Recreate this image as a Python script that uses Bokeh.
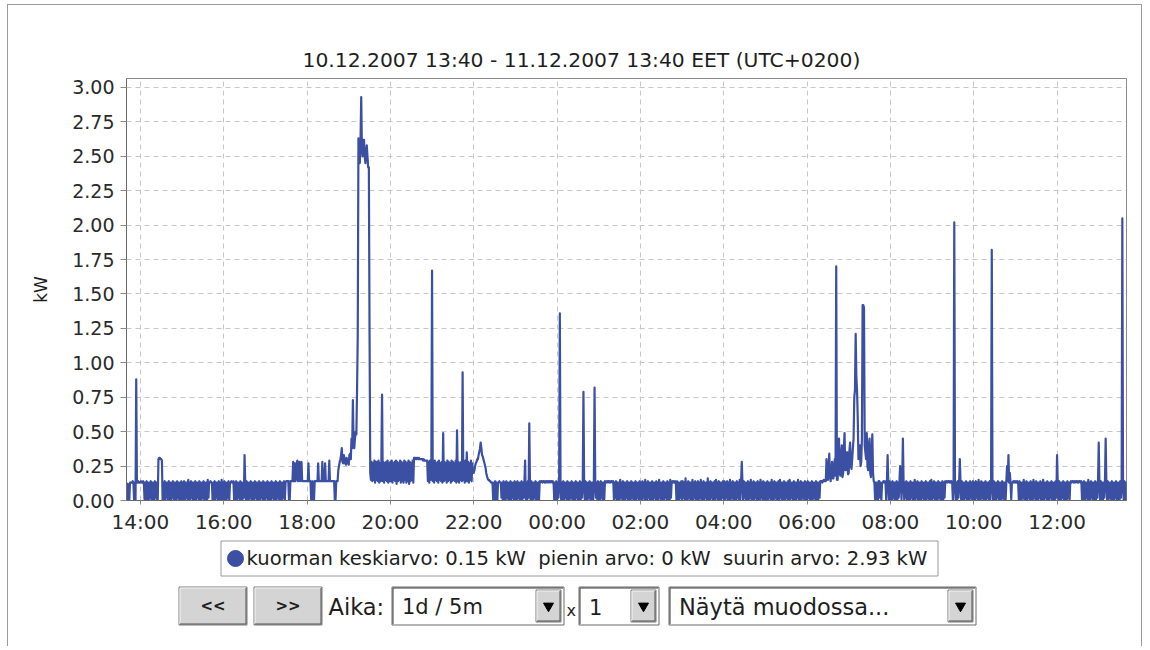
from bokeh.plotting import figure
from bokeh.models import Range1d, FixedTicker, NumeralTickFormatter, ColumnDataSource
from bokeh.layouts import column
from bokeh.embed import file_html
from bokeh.resources import INLINE
from bokeh.core.properties import value

# ---------------- data (load in hundredths of kW, 1-minute samples, one list per clock hour) ----------------
title_text = "10.12.2007 13:40 - 11.12.2007 13:40 EET (UTC+0200)"
start_clock_min = 13 * 60 + 40
step_minutes = 1

kw_13a = [13, 0, 12, 1, 0, 13, 13, 13, 13, 14, 13, 0, 13, 0, 88, 13, 13, 14, 13, 13]
kw_14 = [13, 14, 13, 13, 14, 13, 1, 13, 0, 14, 1, 13, 0, 13, 2, 14, 0, 13, 1, 13,
         0, 14, 2, 13, 0, 1, 30, 31, 31, 30, 30, 29, 0, 13, 1, 14, 0, 13, 2, 13,
         0, 14, 1, 13, 0, 13, 2, 14, 0, 13, 1, 13, 0, 14, 2, 13, 0, 13, 1, 14]
kw_15 = [0, 13, 1, 14, 0, 13, 2, 13, 0, 15, 1, 13, 0, 14, 2, 13, 0, 13, 1, 14,
         0, 13, 2, 13, 0, 14, 1, 13, 0, 13, 2, 14, 0, 13, 1, 13, 0, 15, 2, 13,
         13, 14, 13, 13, 0, 13, 1, 14, 0, 13, 2, 13, 0, 14, 1, 13, 0, 15, 1, 13]
kw_16 = [0, 14, 1, 13, 0, 13, 2, 14, 0, 13, 13, 14, 13, 13, 14, 0, 13, 1, 14, 0,
         13, 2, 13, 0, 14, 1, 13, 0, 13, 2, 33, 13, 0, 14, 1, 13, 0, 13, 2, 14,
         0, 13, 1, 13, 0, 14, 2, 13, 0, 13, 1, 14, 0, 13, 2, 13, 0, 14, 1, 13]
kw_17 = [0, 13, 2, 14, 0, 13, 1, 13, 0, 14, 2, 13, 0, 13, 1, 14, 0, 13, 2, 13,
         0, 14, 1, 13, 0, 13, 2, 14, 0, 13, 14, 14, 14, 14, 0, 0, 14, 14, 14, 14,
         28, 14, 27, 14, 15, 27, 29, 14, 15, 28, 14, 26, 28, 14, 14, 14, 14, 14, 14, 14]
kw_18 = [14, 14, 27, 14, 14, 14, 0, 0, 14, 0, 0, 14, 14, 14, 14, 14, 27, 14, 14, 14,
         14, 14, 28, 14, 14, 14, 27, 14, 14, 14, 14, 14, 29, 14, 14, 14, 14, 14, 14, 14,
         0, 0, 14, 14, 14, 22, 25, 28, 30, 33, 38, 28, 27, 33, 30, 27, 26, 31, 29, 27]
kw_19 = [26, 33, 34, 30, 45, 38, 73, 40, 38, 45, 50, 48, 80, 120, 263, 255, 245, 262, 293, 255,
         250, 262, 262, 250, 245, 252, 258, 250, 242, 242, 120, 20, 15, 28, 14, 27, 15, 29, 13, 28,
         15, 28, 14, 29, 13, 27, 14, 28, 77, 14, 28, 13, 27, 15, 28, 14, 29, 13, 27, 14]
kw_20 = [28, 14, 29, 13, 27, 15, 28, 14, 29, 12, 28, 14, 27, 15, 29, 13, 28, 14, 27, 13,
         29, 15, 28, 13, 27, 14, 29, 12, 28, 14, 27, 15, 29, 13, 31, 31, 31, 30, 31, 31,
         30, 31, 30, 30, 30, 30, 30, 29, 30, 29, 29, 29, 29, 29, 14, 28, 13, 29, 15, 27]
kw_21 = [167, 14, 28, 13, 29, 15, 27, 14, 28, 13, 29, 15, 27, 14, 28, 13, 49, 14, 28, 15,
         27, 13, 29, 14, 28, 15, 27, 13, 29, 14, 28, 15, 27, 14, 29, 13, 51, 14, 28, 13,
         27, 15, 28, 14, 93, 15, 27, 13, 29, 14, 35, 14, 28, 13, 27, 15, 29, 14, 27, 20]
kw_22 = [20, 22, 25, 27, 28, 30, 30, 33, 35, 38, 42, 38, 33, 32, 30, 28, 26, 24, 20, 18,
         16, 15, 15, 14, 14, 13, 13, 13, 1, 13, 0, 14, 1, 13, 0, 13, 13, 14, 13, 13,
         2, 13, 0, 14, 1, 13, 0, 14, 2, 13, 0, 13, 1, 14, 0, 13, 2, 13, 0, 14]
kw_23 = [1, 13, 0, 14, 2, 13, 0, 13, 1, 14, 0, 13, 2, 13, 29, 1, 13, 0, 14, 2,
         56, 13, 0, 14, 1, 13, 0, 13, 2, 14, 0, 13, 1, 13, 0, 14, 13, 14, 14, 13,
         14, 14, 13, 14, 13, 14, 14, 13, 14, 14, 13, 14, 14, 13, 14, 13, 0, 13, 1, 14]
kw_00 = [0, 13, 2, 14, 136, 13, 0, 13, 1, 14, 0, 13, 2, 13, 0, 14, 1, 13, 0, 13,
         2, 14, 0, 13, 1, 13, 0, 14, 2, 13, 0, 13, 1, 14, 0, 13, 2, 13, 79, 13,
         0, 14, 1, 13, 0, 13, 2, 14, 0, 13, 1, 13, 0, 14, 82, 13, 2, 13, 0, 14]
kw_01 = [1, 13, 0, 14, 2, 13, 0, 13, 1, 14, 13, 14, 13, 14, 14, 13, 14, 13, 14, 14,
         13, 14, 0, 13, 2, 14, 0, 13, 1, 13, 0, 15, 2, 13, 0, 14, 1, 13, 0, 13,
         2, 14, 0, 13, 1, 13, 0, 14, 2, 13, 0, 13, 1, 14, 0, 13, 2, 13, 0, 14]
kw_02 = [1, 13, 0, 14, 2, 13, 0, 15, 1, 13, 0, 14, 2, 13, 0, 13, 1, 14, 0, 13,
         2, 13, 0, 14, 1, 13, 0, 15, 2, 13, 0, 13, 1, 14, 0, 13, 2, 13, 0, 14,
         1, 13, 0, 15, 2, 13, 14, 13, 14, 13, 14, 13, 0, 14, 1, 13, 0, 13, 2, 14]
kw_03 = [0, 14, 2, 13, 0, 16, 1, 13, 0, 14, 2, 13, 0, 13, 1, 15, 0, 13, 2, 14,
         0, 13, 1, 14, 0, 13, 2, 15, 0, 13, 1, 14, 0, 13, 2, 13, 0, 16, 1, 13,
         0, 14, 2, 13, 0, 13, 1, 14, 0, 15, 2, 13, 0, 14, 1, 13, 0, 13, 2, 14]
kw_04 = [1, 14, 0, 13, 2, 14, 0, 13, 1, 15, 0, 13, 2, 14, 0, 13, 1, 13, 0, 14,
         2, 13, 0, 15, 1, 13, 28, 13, 0, 14, 2, 13, 0, 13, 1, 14, 0, 13, 2, 15,
         0, 13, 1, 14, 0, 13, 2, 13, 0, 14, 1, 13, 0, 15, 2, 13, 0, 14, 1, 13]
kw_05 = [0, 13, 1, 14, 0, 13, 2, 13, 0, 15, 1, 13, 0, 14, 2, 13, 0, 13, 1, 14,
         0, 15, 2, 13, 0, 13, 1, 14, 0, 13, 2, 13, 0, 14, 1, 15, 0, 13, 2, 13,
         0, 14, 1, 13, 0, 13, 2, 15, 0, 13, 1, 14, 0, 13, 2, 13, 0, 14, 1, 13]
kw_06 = [0, 14, 2, 13, 0, 13, 1, 14, 0, 13, 2, 13, 0, 14, 1, 13, 0, 13, 2, 14,
         14, 14, 13, 14, 15, 14, 14, 14, 30, 18, 15, 25, 34, 17, 14, 22, 28, 16, 16, 26,
         30, 18, 170, 15, 15, 30, 45, 20, 18, 33, 40, 17, 20, 38, 49, 22, 22, 35, 35, 19]
kw_07 = [20, 36, 42, 25, 23, 30, 38, 45, 75, 80, 121, 90, 80, 60, 30, 35, 40, 25, 28, 45,
         142, 142, 140, 40, 35, 30, 49, 25, 22, 40, 45, 20, 17, 35, 48, 20, 14, 13, 1, 13,
         13, 0, 0, 14, 14, 2, 13, 0, 13, 13, 14, 13, 14, 13, 0, 14, 33, 13, 0, 14]
kw_08 = [1, 13, 0, 14, 2, 13, 0, 13, 1, 14, 0, 13, 2, 13, 25, 13, 1, 14, 45, 13,
         0, 13, 2, 14, 0, 13, 1, 13, 0, 14, 2, 13, 0, 13, 1, 15, 0, 13, 2, 14,
         0, 13, 1, 13, 0, 14, 2, 13, 0, 13, 1, 14, 0, 13, 2, 13, 0, 14, 1, 15]
kw_09 = [0, 13, 2, 14, 0, 13, 1, 13, 0, 14, 2, 13, 0, 13, 1, 14, 0, 13, 2, 14,
         13, 14, 13, 14, 14, 13, 14, 13, 14, 13, 0, 13, 202, 14, 1, 13, 0, 14, 2, 13,
         30, 13, 0, 14, 1, 13, 0, 13, 2, 14, 0, 13, 1, 13, 0, 14, 2, 13, 0, 14]
kw_10 = [1, 13, 0, 14, 2, 13, 0, 15, 1, 13, 0, 14, 2, 13, 0, 13, 1, 14, 0, 13,
         2, 13, 0, 14, 1, 13, 182, 13, 0, 14, 1, 13, 0, 13, 2, 14, 0, 13, 1, 13,
         0, 14, 2, 13, 0, 13, 1, 14, 25, 14, 33, 13, 20, 13, 1, 13, 13, 14, 13, 14]
kw_11 = [13, 14, 13, 14, 13, 0, 14, 1, 13, 0, 13, 2, 15, 0, 13, 1, 14, 0, 13, 2,
         13, 0, 14, 1, 13, 0, 15, 2, 13, 0, 14, 1, 13, 0, 13, 2, 14, 0, 13, 1,
         15, 0, 13, 2, 13, 0, 14, 1, 13, 0, 13, 2, 14, 0, 13, 1, 13, 0, 14, 2]
kw_12 = [33, 13, 0, 14, 1, 13, 0, 13, 2, 14, 0, 13, 1, 13, 0, 14, 2, 13, 0, 13,
         14, 13, 14, 14, 13, 14, 13, 14, 14, 13, 14, 13, 14, 14, 13, 14, 0, 13, 1, 14,
         0, 13, 2, 13, 0, 15, 1, 13, 0, 14, 2, 13, 0, 13, 1, 14, 0, 13, 2, 14]
kw_13b = [42, 13, 0, 14, 1, 13, 0, 13, 2, 14, 45, 13, 1, 14, 0, 13, 2, 13, 0, 14,
          1, 13, 0, 13, 2, 14, 0, 13, 1, 13, 0, 14, 2, 13, 205, 13, 0, 14, 1, 13,
          0]

x_tick_labels = ["14:00", "16:00", "18:00", "20:00", "22:00", "00:00",
                 "02:00", "04:00", "06:00", "08:00", "10:00", "12:00"]
y_ticks = [0.0, 0.25, 0.5, 0.75, 1.0, 1.25, 1.5, 1.75, 2.0, 2.25, 2.5, 2.75, 3.0]
y_label = "kW"

series_name = "kuorman keskiarvo"
mean_kw = "0.15"
min_kw = "0"
max_kw = "2.93"
legend_text = (f"{series_name}: {mean_kw} kW\u00a0 pienin arvo: {min_kw} kW"
               f"\u00a0 suurin arvo: {max_kw} kW")

btn_prev_label = "<<"
btn_next_label = ">>"
aika_label = "Aika:"
period_option = "1d / 5m"
times_label = "x"
multiplier_option = "1"
format_option = "Näytä muodossa..."

# ---------------- build series ----------------
rows = [kw_13a, kw_14, kw_15, kw_16, kw_17, kw_18, kw_19, kw_20, kw_21, kw_22, kw_23,
        kw_00, kw_01, kw_02, kw_03, kw_04, kw_05, kw_06, kw_07, kw_08, kw_09, kw_10,
        kw_11, kw_12, kw_13b]
kw = [v / 100.0 for r in rows for v in r]
minute = [i * step_minutes for i in range(len(kw))]
src = ColumnDataSource(data=dict(minute=minute, kw=kw))


def label_to_offset(lbl):
    h, m = lbl.split(":")
    return ((int(h) * 60 + int(m)) - start_clock_min) % 1440


x_tick_pos = [label_to_offset(l) for l in x_tick_labels]

FONT = "DejaVu Sans"
BLUE = "#3b4fa3"
W = 1133
BL, BR = 118, 15

# ---------------- chart ----------------
p1 = figure(width=W, height=533, x_range=Range1d(0, 1440), y_range=Range1d(0, 3.065),
            output_backend="svg", toolbar_location=None,
            min_border_left=BL, min_border_right=BR, min_border_top=73, min_border_bottom=38,
            background_fill_color="white", border_fill_color="white")

p1.title.text = title_text
p1.title.align = "left"
p1.title.offset = 176
p1.title.text_font = FONT
p1.title.text_font_size = "20.3px"
p1.title.text_font_style = "normal"
p1.title.text_color = "#1e1e1e"
p1.title.standoff = 13

p1.xaxis.ticker = FixedTicker(ticks=x_tick_pos)
p1.xaxis.major_label_overrides = {pos: lbl for pos, lbl in zip(x_tick_pos, x_tick_labels)}
p1.yaxis.ticker = FixedTicker(ticks=y_ticks)
p1.yaxis.formatter = NumeralTickFormatter(format="0.00")
p1.yaxis.axis_label = y_label
p1.yaxis.axis_label_text_font = FONT
p1.yaxis.axis_label_text_font_size = "17px"
p1.yaxis.axis_label_text_font_style = "normal"
p1.yaxis.axis_label_text_color = "#1e1e1e"
p1.yaxis.axis_label_standoff = 18

for ax in (p1.xaxis[0], p1.yaxis[0]):
    ax.axis_line_color = "#6a6a6a"
    ax.axis_line_width = 1
    ax.major_tick_line_color = "#8a8a8a"
    ax.major_tick_in = 0
    ax.minor_tick_line_color = None
    ax.major_label_text_font = FONT
    ax.major_label_text_color = "#2a2a2a"
p1.yaxis.major_label_text_font_size = "19px"
p1.xaxis.major_label_text_font_size = "20px"
p1.yaxis.major_tick_out = 6
p1.yaxis.major_label_standoff = 6
p1.xaxis.major_tick_out = 4
p1.xaxis.major_label_standoff = 5

p1.grid.grid_line_color = "#c6c6c6"
p1.grid.grid_line_dash = "5 4"
p1.grid.grid_line_width = 1
p1.outline_line_color = "#8a8a8a"

p1.line(x="minute", y="kw", source=src, line_color=BLUE, line_width=2.2, line_join="round")

# ---------------- legend + controls strip (page pixel coordinates) ----------------
# frame of this strip is aligned with the chart frame: page x 126..1126, page y 538..646
p2 = figure(width=W, height=108, x_range=Range1d(126, 1126), y_range=Range1d(646, 538),
            x_axis_type=None, y_axis_type=None, output_backend="svg", toolbar_location=None,
            min_border_left=BL, min_border_right=BR, min_border_top=0,
            min_border_bottom=0, outline_line_color=None,
            background_fill_color="white", border_fill_color="white")


def txt(x, y, s, size, align="left", style="normal", color="#1e1e1e"):
    p2.text(x=[x], y=[y], text=[s], text_font=value(FONT), text_font_size=size,
            text_align=align, text_baseline="middle", text_font_style=style, text_color=color)


def raised(l, r, t, b):
    p2.quad(left=[l], right=[r], top=[t], bottom=[b], fill_color="#d4d4d4", line_color="#7a7a7a")
    p2.multi_line(xs=[[l + 1, l + 1, r - 1]], ys=[[b - 1, t + 1, t + 1]], line_color="#f4f4f4")
    p2.multi_line(xs=[[l + 1, r - 1, r - 1]], ys=[[b - 1, b - 1, t + 1]], line_color="#505050")


def combo(l, r, t, b, label, size):
    p2.quad(left=[l], right=[r], top=[t], bottom=[b], fill_color="white", line_color="#6a6a6a")
    p2.multi_line(xs=[[l + 1, l + 1, r - 1]], ys=[[b - 1, t + 1, t + 1]], line_color="#3a3a3a")
    raised(r - 28, r - 3, t + 3, b - 3)
    p2.scatter(x=[r - 15.5], y=[(t + b) / 2], marker="inverted_triangle", size=10,
               fill_color="black", line_color="black")
    txt(l + 10, (t + b) / 2 + 1, label, size)


# legend box
p2.quad(left=[220.5], right=[937.5], top=[540.5], bottom=[575.5], fill_color="white",
        line_color="#9a9a9a")
p2.scatter(x=[235], y=[558], size=16, marker="circle", fill_color=BLUE, line_color=BLUE)
txt(246, 558, legend_text, "19.6px")

# navigation buttons
raised(178.5, 246.5, 586.5, 624.5)
txt(212.5, 605, btn_prev_label, "15px", align="center", style="bold")
raised(253.5, 321.5, 586.5, 624.5)
txt(287.5, 605, btn_next_label, "15px", align="center", style="bold")

txt(328, 606, aika_label, "22.5px")
combo(391.5, 563.5, 586.5, 624.5, period_option, "21px")
txt(566, 610, times_label, "16px")
combo(578.5, 658.5, 586.5, 624.5, multiplier_option, "21px")
combo(668.5, 975.5, 586.5, 624.5, format_option, "22.5px")

layout = column(p1, p2, spacing=0, margin=(4, 0, 0, 7),
                styles={"border-top": "1px solid #9c9c9c",
                        "border-left": "1px solid #9c9c9c",
                        "border-right": "1px solid #9c9c9c"})

open("out.html", "w").write(file_html(layout, INLINE))
